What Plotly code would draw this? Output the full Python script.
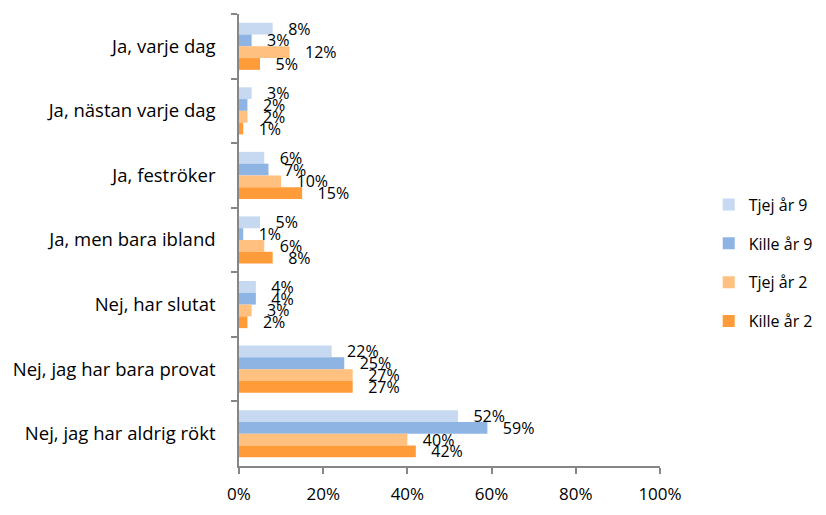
import plotly.graph_objects as go

categories = ["Ja, varje dag", "Ja, nästan varje dag", "Ja, feströker",
              "Ja, men bara ibland", "Nej, har slutat", "Nej, jag har bara provat",
              "Nej, jag har aldrig rökt"]
series_names = ["Tjej år 9", "Kille år 9", "Tjej år 2", "Kille år 2"]
tjej_ar9 = [8, 3, 6, 5, 4, 22, 52]
kille_ar9 = [3, 2, 7, 1, 4, 25, 59]
tjej_ar2 = [12, 2, 10, 6, 3, 27, 40]
kille_ar2 = [5, 1, 15, 8, 2, 27, 42]
colors = ["#C6D9F1", "#8DB4E2", "#FFC080", "#FF9B38"]
x_ticks = [0, 20, 40, 60, 80, 100]
x_tick_labels = ["0%", "20%", "40%", "60%", "80%", "100%"]

FONT = "Open Sans, sans-serif"
PAD = "\u200b\u00a0\u00a0\u00a0"

fig = go.Figure()
for name, vals, col in zip(series_names, [tjej_ar9, kille_ar9, tjej_ar2, kille_ar2], colors):
    fig.add_trace(go.Bar(
        name=name, x=vals, y=categories, orientation="h",
        marker=dict(color=col, line=dict(width=0)),
        text=[f"{PAD}{v}%" for v in vals], texttemplate="%{text}",
        textposition="outside",
        constraintext="none", cliponaxis=False,
        textfont=dict(family=FONT, size=16, color="#000000"),
        legendgroup=name,
    ))

fig.update_layout(
    width=826, height=515,
    margin=dict(l=239, r=166, t=14, b=49, autoexpand=False),
    paper_bgcolor="white", plot_bgcolor="white",
    barmode="group", bargap=0.27, bargroupgap=0,
    font=dict(family=FONT, size=16, color="#000000"),
    legend=dict(xref="container", yref="container",
                x=0.858, y=0.489, xanchor="left", yanchor="middle",
                traceorder="grouped", tracegroupgap=15,
                font=dict(family=FONT, size=16, color="#000000"),
                itemwidth=30),
    xaxis=dict(range=[0, 100], tickvals=x_ticks, ticktext=x_tick_labels,
               showgrid=False, zeroline=False, showline=True, automargin=False,
               linecolor="#868686", linewidth=1.5, ticks="outside",
               tickcolor="#868686", ticklen=6, tickwidth=1.5,
               ticklabelstandoff=6,
               tickfont=dict(family=FONT, size=17, color="#000000")),
    yaxis=dict(autorange="reversed", showgrid=False, zeroline=False, automargin=False,
               showline=True, linecolor="#868686", linewidth=1.5,
               ticks="outside", tickson="boundaries", tickcolor="#868686",
               ticklen=6, tickwidth=1.5, ticklabelstandoff=18,
               tickfont=dict(family=FONT, size=18.5, color="#000000")),
)

fig.write_html(
    "out.html", config={"displayModeBar": False},
    post_script=("document.body.style.margin='0';"
                 "document.body.style.overflow='hidden';"
                 "document.documentElement.style.overflow='hidden';"))
